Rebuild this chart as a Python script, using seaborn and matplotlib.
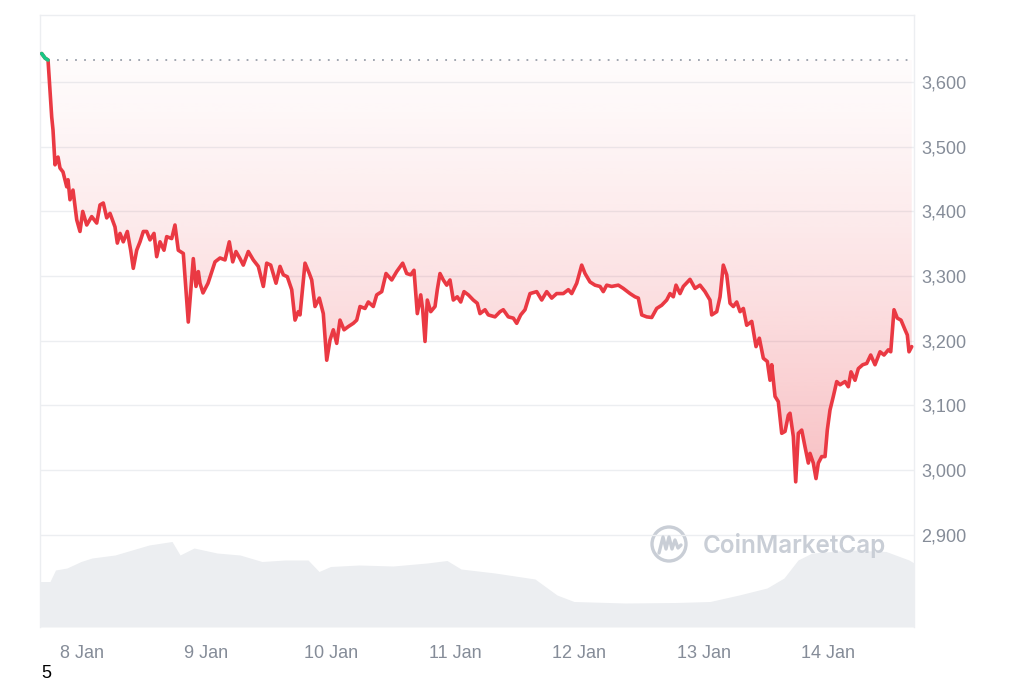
import numpy as np
import pandas as pd
import matplotlib
matplotlib.use("Agg")
import matplotlib.pyplot as plt
import matplotlib.dates as mdates
from matplotlib.colors import to_rgb
from matplotlib.patches import Ellipse
from matplotlib.lines import Line2D
import seaborn as sns

# ---------------- data (hours since 7 Jan 00:00) ----------------
hours = [16.22, 16.86, 17.44, 18.15, 18.40, 18.79, 19.37, 19.75, 20.33, 21.05,
         21.30, 21.68, 22.26, 22.98, 23.61, 24.14, 24.91, 25.87, 26.84, 27.48,
         28.11, 28.77, 29.41, 30.37, 30.82, 31.34, 31.97, 32.75, 33.40, 33.90,
         34.56, 35.20, 35.84, 36.49, 37.13, 37.90, 38.42, 39.06, 39.83, 40.35,
         41.32, 41.95, 42.59, 43.56, 44.52, 45.49, 46.01, 46.46, 46.78, 47.36,
         48.33, 49.68, 50.65, 51.61, 52.44, 53.10, 53.73, 54.51, 55.14, 56.11,
         57.07, 58.04, 59.01, 59.66, 60.43, 61.46, 62.23, 62.87, 63.64, 64.49,
         65.13, 65.76, 66.09, 67.06, 67.89, 68.35, 68.99, 69.82, 70.59, 71.25,
         71.88, 72.52, 73.18, 73.81, 74.59, 75.42, 76.38, 77.04, 77.68, 78.64,
         79.28, 80.24, 80.90, 81.87, 82.70, 83.80, 84.76, 85.92, 86.69, 87.47,
         88.10, 88.74, 89.40, 89.78, 90.23, 90.67, 91.33, 92.16, 92.60, 93.12,
         93.76, 94.42, 95.05, 95.69, 96.46, 97.12, 97.76, 98.59, 99.55, 100.32,
         100.84, 101.81, 102.45, 103.74, 104.71, 105.34, 106.31, 107.28, 107.93, 108.70,
         109.53, 110.50, 111.79, 112.76, 113.72, 114.69, 115.65, 116.93, 117.90, 118.55,
         119.52, 120.48, 121.12, 122.08, 123.05, 124.02, 124.65, 125.31, 126.27, 127.55,
         128.51, 129.81, 130.77, 131.41, 132.07, 133.03, 134.00, 134.96, 135.93, 136.89,
         137.53, 138.17, 138.69, 139.46, 140.10, 141.39, 142.36, 143.32, 144.29, 145.25,
         145.58, 146.55, 147.19, 147.82, 148.48, 149.12, 149.75, 150.41, 151.05, 151.69,
         152.34, 153.31, 154.14, 154.78, 155.55, 156.32, 156.84, 157.17, 157.81, 158.44,
         159.10, 159.74, 160.38, 160.70, 161.34, 161.80, 162.31, 162.96, 163.60, 164.24,
         164.56, 165.20, 165.72, 166.17, 166.82, 167.46, 167.90, 168.42, 169.06, 169.72,
         170.36, 171.32, 171.96, 172.48, 173.25, 173.89, 174.74, 175.51, 176.28, 177.11,
         178.08, 178.85, 179.68, 180.15, 180.78, 181.42, 182.13, 182.91, 183.35, 183.68,
         184.20]

price = [3644, 3637, 3634, 3546, 3526, 3472, 3484, 3467, 3461, 3438,
         3449, 3418, 3433, 3387, 3369, 3400, 3379, 3392, 3382, 3410,
         3413, 3390, 3397, 3376, 3351, 3366, 3353, 3369, 3340, 3312,
         3340, 3353, 3369, 3369, 3356, 3366, 3330, 3353, 3340, 3361,
         3358, 3379, 3340, 3335, 3229, 3327, 3284, 3307, 3289, 3274,
         3289, 3322, 3328, 3325, 3353, 3322, 3338, 3327, 3317, 3338,
         3325, 3315, 3284, 3320, 3317, 3289, 3315, 3302, 3299, 3279,
         3232, 3245, 3240, 3320, 3304, 3294, 3253, 3266, 3242, 3170,
         3201, 3217, 3196, 3232, 3217, 3222, 3227, 3232, 3253, 3250,
         3260, 3253, 3271, 3276, 3304, 3294, 3307, 3320, 3304, 3302,
         3309, 3242, 3271, 3248, 3199, 3263, 3245, 3253, 3279, 3304,
         3294, 3286, 3294, 3263, 3268, 3260, 3276, 3271, 3263, 3258,
         3242, 3248, 3240, 3237, 3245, 3248, 3237, 3235, 3227, 3240,
         3248, 3273, 3276, 3263, 3276, 3266, 3273, 3273, 3279, 3273,
         3289, 3317, 3304, 3291, 3286, 3284, 3276, 3286, 3284, 3286,
         3281, 3273, 3268, 3266, 3240, 3237, 3236, 3250, 3255, 3263,
         3273, 3268, 3286, 3273, 3284, 3295, 3281, 3286, 3276, 3263,
         3240, 3245, 3268, 3317, 3302, 3258, 3253, 3260, 3245, 3250,
         3224, 3230, 3191, 3204, 3173, 3168, 3139, 3163, 3114, 3106,
         3057, 3060, 3085, 3088, 3052, 2982, 3057, 3062, 3036, 3011,
         3026, 3011, 2987, 3011, 3021, 3021, 3062, 3093, 3114, 3137,
         3132, 3137, 3129, 3152, 3139, 3157, 3163, 3165, 3178, 3163,
         3183, 3178, 3186, 3183, 3248, 3235, 3232, 3217, 3209, 3183,
         3191]

vol_hours = [15.89, 17.82, 18.88, 21.10, 23.81, 25.93, 30.37, 33.65, 36.94, 41.38,
             42.93, 45.63, 50.07, 54.51, 58.75, 63.20, 67.64, 69.76, 71.98, 77.48,
             84.05, 90.61, 94.47, 97.18, 103.74, 111.46, 115.71, 118.99, 128.84, 138.69,
             145.25, 150.85, 156.26, 159.54, 162.24, 164.95, 172.67, 179.24, 183.68, 184.64]
volume = [9.1, 9.1, 11.4, 11.8, 13.1, 13.8, 14.4, 15.4, 16.4, 17.1,
          14.4, 15.8, 14.8, 14.4, 13.1, 13.4, 13.4, 11.1, 12.1, 12.4,
          12.2, 12.8, 13.3, 11.6, 10.8, 9.6, 6.4, 5.1, 4.8, 4.9,
          5.1, 6.4, 7.8, 9.8, 13.4, 14.8, 15.4, 15.1, 13.4, 12.8]

open_price = 3634
y_ticks = [2900, 3000, 3100, 3200, 3300, 3400, 3500, 3600]
day_ticks = [8, 9, 10, 11, 12, 13, 14]

# ---------------- style ----------------
sns.set_theme(style="white")
plt.rcParams["font.family"] = ["Liberation Sans", "DejaVu Sans"]

RED = "#ea3943"
GREEN = "#16c784"
LABEL = "#858c98"

t0 = pd.Timestamp("2024-01-07")
times = t0 + pd.to_timedelta(hours, unit="h")
vtimes = t0 + pd.to_timedelta(vol_hours, unit="h")
df = pd.DataFrame({"time": times, "price": price})

fig = plt.figure(figsize=(10.24, 6.83), dpi=100)
ax = fig.add_axes([40 / 1024, 1 - 627 / 683, 874 / 1024, 612 / 683])
ax2 = ax.twinx()
ax.set_zorder(ax2.get_zorder() + 1)
ax.patch.set_visible(False)

# volume area
ax2.fill_between(vtimes, volume, 0, color="#eceef1", lw=0)
ax2.set_ylim(0, 122.4)
ax2.set_yticks([])
for s in ax2.spines.values():
    s.set_visible(False)

# gridlines
for v in y_ticks:
    ax.axhline(v, color="#eceef1", lw=1, zorder=0)

# gradient fill between line and opening price
xnum = mdates.date2num(times)
poly = ax.fill_between(times, price, open_price, color="none", lw=0)
ymin_v = min(price)
n = 256
rgba = np.zeros((n, 1, 4))
rgba[..., :3] = to_rgb(RED)
frac = np.linspace(0, 1, n)  # 0 at bottom (min) -> 1 at open
rgba[:, 0, 3] = 0.30 * (1 - frac) ** 1.3 + 0.02
im = ax.imshow(rgba, extent=[xnum[0], xnum[-1], ymin_v, open_price],
               origin="lower", aspect="auto", zorder=1, interpolation="bilinear")
im.set_clip_path(poly.get_paths()[0], transform=ax.transData)

# dotted opening-price line
ax.hlines(open_price, times[2], t0 + pd.Timedelta(hours=184.3), colors="#9aa0ab",
          linestyles=(0, (1, 4)), lw=1.3, zorder=2)

# price line
sns.lineplot(data=df, x="time", y="price", color=RED, linewidth=2.6, ax=ax, zorder=3)
sns.lineplot(data=df[df["price"] >= open_price], x="time", y="price", color=GREEN,
             linewidth=2.6, ax=ax, zorder=4)

# axes limits / ticks
ax.set_xlim(t0 + pd.Timedelta(hours=15.89), t0 + pd.Timedelta(hours=184.64))
ax.set_ylim(2757.6, 3703.6)
ax.yaxis.tick_right()
ax.set_yticks(y_ticks)
ax.set_yticklabels([f"{v:,}" for v in y_ticks])
ax.set_xticks([t0 + pd.Timedelta(days=d - 7) for d in day_ticks])
ax.set_xticklabels([f"{d} Jan" for d in day_ticks])
ax.tick_params(axis="y", length=0, pad=5, labelsize=13, labelcolor=LABEL)
ax.tick_params(axis="x", length=0, pad=13, labelsize=13, labelcolor=LABEL)
ax.set_xlabel("")
ax.set_ylabel("")
for side in ["top", "left", "right"]:
    ax.spines[side].set_color("#eceef1")
    ax.spines[side].set_linewidth(1)
ax.spines["bottom"].set_visible(False)

# watermark
wm = "#c9ced6"
fig.text(703 / 1024, 1 - 545 / 683, "CoinMarketCap", fontsize=17.5, fontweight="semibold",
         color=wm, va="center", ha="left", family=["Inter", "DejaVu Sans"])
fig.add_artist(Ellipse((669 / 1024, 1 - 544 / 683), 34 / 1024, 34 / 683,
                       transform=fig.transFigure, fill=False, edgecolor=wm, lw=2.4))
mx = np.array([659, 663, 666, 669, 672, 675, 678, 681]) / 1024
my = 1 - np.array([553, 537, 549, 537, 549, 540, 548, 545]) / 683
fig.add_artist(Line2D(mx, my, transform=fig.transFigure, color=wm, lw=2.4,
                      solid_joinstyle="round", solid_capstyle="round"))

# stray label
fig.text(41 / 1024, 1 - 674 / 683, "5", fontsize=13, color="black", va="center", ha="left")

fig.savefig("out.png", dpi=100)
